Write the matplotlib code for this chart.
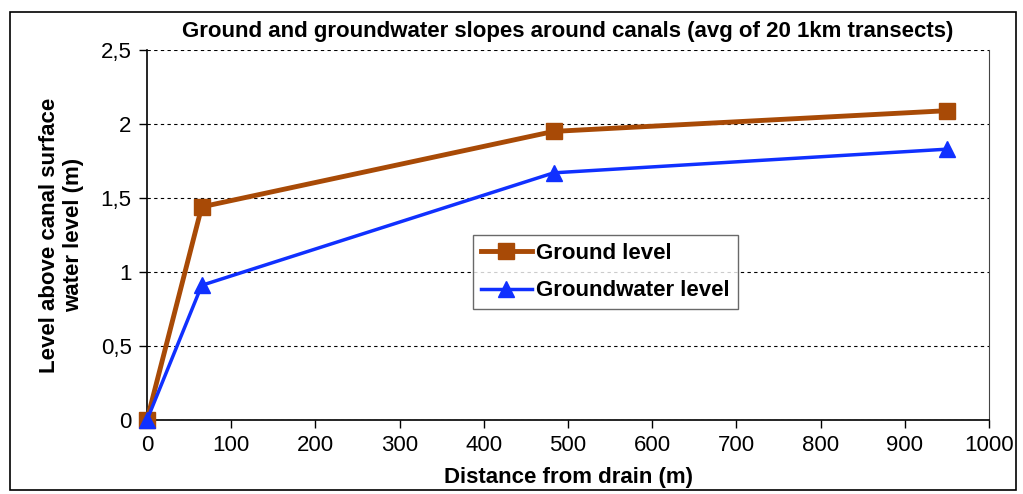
import matplotlib.pyplot as plt
from matplotlib.patches import Rectangle
from matplotlib.ticker import FuncFormatter

plt.rcParams['font.family'] = ['Liberation Sans', 'DejaVu Sans']

# datos
distancia = [0, 65, 483, 950]
nivel_suelo = [0, 1.44, 1.95, 2.09]
nivel_freatico = [0, 0.91, 1.67, 1.83]

titulo = 'Ground and groundwater slopes around canals (avg of 20 1km transects)'
etiqueta_x = 'Distance from drain (m)'
etiqueta_y = 'Level above canal surface\nwater level (m)'

color_suelo = '#A84A06'
color_freatico = '#1030FF'

fig = plt.figure(figsize=(10.23, 4.94), dpi=100)
W, H = 1023, 494
ax = fig.add_axes([147 / W, 1 - 420 / H, (989 - 147) / W, (420 - 50) / H])

# borde exterior del grafico
fig.patches.append(Rectangle((10 / W, 1 - 490 / H), (1016 - 10) / W, (490 - 12) / H,
                             transform=fig.transFigure, fill=False, edgecolor='black', lw=1.2))

ax.plot(distancia, nivel_suelo, color=color_suelo, lw=3.5, marker='s', ms=11,
        label='Ground level', clip_on=False, zorder=3)
ax.plot(distancia, nivel_freatico, color=color_freatico, lw=2.5, marker='^', ms=12,
        label='Groundwater level', clip_on=False, zorder=4)

ax.set_xlim(0, 1000)
ax.set_ylim(0, 2.5)
ax.set_xticks(range(0, 1001, 100))
ax.set_yticks([0, 0.5, 1, 1.5, 2, 2.5])
ax.yaxis.set_major_formatter(FuncFormatter(lambda v, p: ('%g' % v).replace('.', ',')))
ax.tick_params(labelsize=16, direction='out', length=6, width=1, pad=5)
ax.grid(axis='y', color='black', ls=(0, (3, 3)), lw=0.8)
ax.spines['top'].set_visible(False)
ax.spines['right'].set_color('#444444')
for s in ['left', 'bottom']:
    ax.spines[s].set_linewidth(1.2)

ax.set_xlabel(etiqueta_x, fontsize=16, fontweight='bold', labelpad=8)
ax.set_ylabel(etiqueta_y, fontsize=16, fontweight='bold', labelpad=12, linespacing=1.2)
fig.text(568 / W, 1 - 31 / H, titulo, ha='center', va='center', fontsize=16, fontweight='bold')

leg = ax.legend(loc='upper left', bbox_to_anchor=((473 - 147) / (989 - 147), (420 - 235) / 370),
                prop={'weight': 'bold', 'size': 16}, frameon=True, fancybox=False,
                edgecolor='#444444', handlelength=2.3, handletextpad=0.2,
                borderpad=0.35, labelspacing=0.75, borderaxespad=0)
leg.get_frame().set_linewidth(1)

fig.savefig('out.png', dpi=100)
